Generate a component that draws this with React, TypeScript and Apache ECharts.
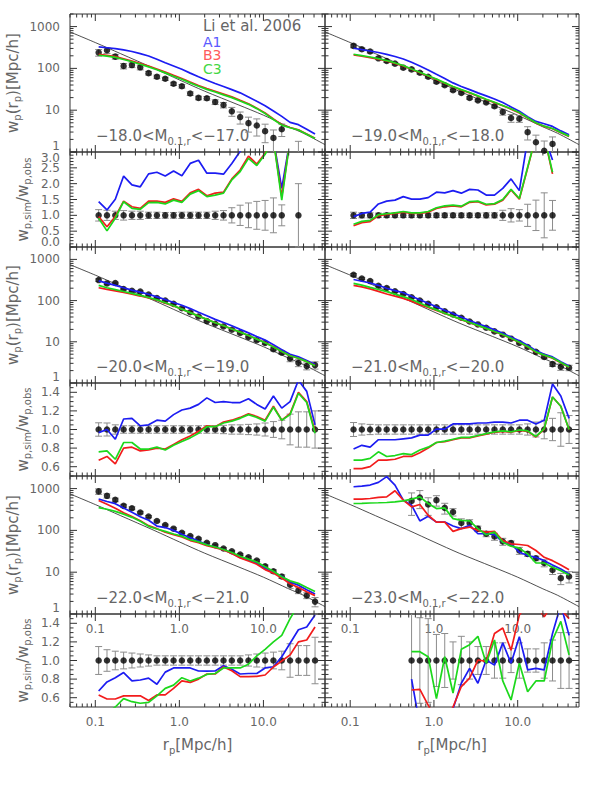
import React, { useEffect, useRef } from 'react';
import * as echarts from 'echarts';

// projected separation r_p [Mpc/h] of the measured bins
const RP = [0.1096, 0.1377, 0.1729, 0.2172, 0.2728, 0.3426, 0.4304, 0.5406, 0.679, 0.853,
  1.071, 1.346, 1.690, 2.123, 2.667, 3.350, 4.207, 5.285, 6.638, 8.337,
  10.47, 13.15, 16.52, 20.75, 26.07, 32.74, 41.1];

// thin reference curve drawn in every w_p panel
const REF_R = [0.05, 0.1, 0.2, 0.5, 1, 2, 5, 10, 20, 30, 54];
const REF_W = [745, 415, 225, 100, 53, 28.5, 13.5, 7.6, 4.0, 2.8, 1.5];

// ---- -18.0 < M < -17.0
const OBS_1 = [239, 271, 191, 114, 120, 106, 77, 63, 56.5, 42.8, 37.5, 25, 19.7, 19.3, 15.7, 13.3, 9.4, 6.85, 4.9, 4.3, 3.15, 2.17, 3.5, null, 0.9, null, null];
const ERR_1 = [0.18, 0.16, 0.13, 0.15, 0.13, 0.13, 0.1, 0.1, 0.09, 0.09, 0.1, 0.1, 0.1, 0.1, 0.13, 0.15, 0.24, 0.32, 0.39, 0.44, 0.47, 0.55, 0.33, null, 1.0, null, null];
const A1_1 = [326, 312, 298, 276, 253, 226, 198, 165, 137, 114, 95, 77, 63, 52, 43.5, 37, 31, 26, 20.8, 16.3, 12.8, 9.6, 7.1, 5.1, 4.5, 3.5, 2.7];
const B3_1 = [217, 205, 191, 170, 150, 131, 114, 97, 81.5, 68, 57.4, 47, 38.9, 33, 28.4, 24.3, 20.8, 17.2, 14.3, 11.2, 8.6, 6.2, 4.5, 3.85, 3.4, 2.7, 2.14];
const C3_1 = [206, 196, 183, 163, 144, 126, 109, 93, 78, 65, 55, 45, 37.5, 31.5, 27.2, 23.3, 20, 16.6, 13.8, 10.9, 8.3, 6.0, 4.4, 3.8, 3.35, 2.65, 2.1];
const RA1_1 = [1.43, 1.17, 1.51, 2.24, 1.96, 1.90, 2.31, 2.36, 2.24, 2.40, 2.25, 2.64, 2.74, 2.33, 2.33, 2.30, 2.64, 3.02, 3.4, 3.5, 3.4, 3.4, 1.85, 3.4, 3.5, null, null];
const RB3_1 = [0.96, 0.64, 0.96, 1.45, 1.27, 1.22, 1.45, 1.45, 1.41, 1.52, 1.44, 1.71, 1.82, 1.62, 1.70, 1.73, 2.15, 2.43, 2.87, 2.62, 2.96, 3.4, 1.59, 3.4, 3.4, null, null];
const RC3_1 = [0.91, 0.51, 0.91, 1.43, 1.22, 1.19, 1.40, 1.41, 1.36, 1.48, 1.41, 1.67, 1.78, 1.59, 1.64, 1.70, 2.12, 2.38, 2.80, 2.57, 2.93, 3.4, 1.48, 3.4, 3.4, null, null];

// ---- -19.0 < M < -18.0
const OBS_2 = [345, 287, 253, 174, 150, 130, 104, 94.6, 78.7, 63, 47.8, 39.6, 30, 26, 19.7, 17.2, 15.4, 12.4, 9.05, 6.5, 6.24, 2.98, 1.71, 1.07, 1.56, null, null];
const ERR_2 = [0.1, 0.08, 0.08, 0.07, 0.07, 0.07, 0.07, 0.07, 0.07, 0.07, 0.07, 0.07, 0.07, 0.07, 0.07, 0.07, 0.08, 0.08, 0.16, 0.21, 0.18, 0.35, 0.48, 0.71, 0.47, null, null];
const A1_2 = [303, 282, 261, 240, 217, 192, 168, 140, 114, 92, 72, 57, 45, 37, 31, 26, 22, 18.5, 15.2, 12, 9.4, 7, 5.4, 4.75, 4.1, 3.2, 2.6];
const B3_2 = [209, 195, 181, 166, 150, 132, 114, 95, 79, 66, 54.5, 44, 36.5, 30.5, 26, 21.5, 18, 15.2, 12.8, 10.6, 8.6, 6.5, 4.9, 4.1, 3.6, 2.9, 2.35];
const C3_2 = [218, 202, 187, 171, 154, 135, 117, 97, 81, 67, 55.5, 45, 37, 31, 26.4, 22, 18.3, 15.5, 13, 10.8, 8.8, 6.6, 5.0, 4.15, 3.65, 2.95, 2.4];
const RA1_2 = [0.96, 1.06, 1.10, 1.36, 1.45, 1.48, 1.59, 1.51, 1.51, 1.56, 1.73, 1.71, 1.78, 1.70, 1.82, 1.80, 1.64, 1.64, 1.85, 2.15, 1.78, 3.4, 3.5, 3.5, 2.75, null, null];
const RB3_2 = [0.67, 0.77, 0.80, 0.99, 1.03, 1.06, 1.10, 1.06, 1.06, 1.10, 1.22, 1.27, 1.30, 1.27, 1.41, 1.43, 1.33, 1.35, 1.48, 1.80, 1.51, 2.49, 3.5, 3.5, 2.31, null, null];
const RC3_2 = [0.72, 0.81, 0.84, 1.02, 1.05, 1.08, 1.12, 1.08, 1.08, 1.12, 1.24, 1.30, 1.32, 1.29, 1.43, 1.45, 1.35, 1.37, 1.50, 1.82, 1.53, 2.52, 3.5, 3.5, 2.36, null, null];

// ---- -20.0 < M < -19.0
const OBS_3 = [315, 261, 267, 191, 174, 165, 140, 116, 100, 83.3, 65.3, 52.3, 41.1, 31.8, 27.4, 23.6, 19.6, 16.3, 13.1, 10.9, 9.35, 6.6, 5.48, 3.93, 3.08, 2.57, 2.72];
const ERR_3 = [0.072, 0.07, 0.05, 0.04, 0.04, 0.04, 0.04, 0.04, 0.04, 0.04, 0.04, 0.04, 0.04, 0.04, 0.04, 0.045, 0.05, 0.05, 0.055, 0.06, 0.07, 0.085, 0.1, 0.165, 0.19, 0.19, 0.2];
const A1_3 = [300, 265, 235, 205, 180, 160, 143, 123, 106, 90, 77, 64, 52, 43, 35, 29.5, 24.5, 20, 16.5, 13.4, 11, 8.5, 6.4, 5, 4.3, 3.5, 2.85];
const B3_3 = [205, 188, 172, 157, 143, 129, 116, 102, 87, 74, 62, 51, 42, 35, 29, 24.5, 20.5, 17.2, 14.2, 11.7, 9.6, 7.6, 5.8, 4.6, 4.0, 3.3, 2.65];
const C3_3 = [235, 205, 185, 166, 150, 134, 119, 104, 89, 75, 62, 51, 42, 35, 29, 24.5, 20.5, 17.2, 14.2, 11.6, 9.5, 7.5, 5.8, 4.6, 4.0, 3.3, 2.62];
const RA1_3 = [0.966, 1.0, 0.895, 1.113, 1.12, 1.04, 1.05, 1.10, 1.09, 1.16, 1.21, 1.23, 1.27, 1.34, 1.29, 1.30, 1.29, 1.29, 1.33, 1.27, 1.22, 1.36, 1.23, 1.30, 1.53, 1.41, 1.05];
const RB3_3 = [0.67, 0.71, 0.63, 0.80, 0.81, 0.77, 0.78, 0.80, 0.79, 0.84, 0.89, 0.93, 0.98, 1.04, 1.03, 1.08, 1.10, 1.13, 1.17, 1.14, 1.10, 1.25, 1.10, 1.17, 1.40, 1.30, 0.98];
const RC3_3 = [0.76, 0.77, 0.68, 0.86, 0.86, 0.79, 0.79, 0.81, 0.78, 0.83, 0.87, 0.91, 0.96, 1.03, 1.03, 1.07, 1.09, 1.12, 1.16, 1.13, 1.09, 1.24, 1.10, 1.16, 1.39, 1.29, 0.96];

// ---- -21.0 < M < -20.0
const OBS_4 = [423, 345, 298, 230, 202, 168, 145, 120, 100, 83.3, 69, 55.2, 46, 38.3, 31.2, 26.4, 21.9, 17.9, 14.9, 11.9, 9.35, 7.5, 5.69, 4.3, 2.87, 2.47, 2.34];
const ERR_4 = [0.075, 0.06, 0.055, 0.05, 0.05, 0.05, 0.05, 0.05, 0.05, 0.05, 0.05, 0.05, 0.05, 0.05, 0.05, 0.05, 0.05, 0.05, 0.05, 0.05, 0.05, 0.06, 0.08, 0.1, 0.12, 0.18, 0.15];
const A1_4 = [325, 295, 268, 235, 200, 175, 155, 128, 105, 86, 71, 58.5, 48.5, 40, 33, 27.5, 23.5, 19.5, 16, 13, 10.6, 8.3, 6.1, 5.0, 4.3, 3.3, 2.6];
const B3_4 = [235, 215, 192, 168, 145, 128, 113, 97, 80, 68, 58, 49, 41, 34.5, 29, 24.5, 21, 17.5, 14.8, 12.0, 9.6, 7.6, 5.6, 4.7, 4.0, 3.1, 2.4];
const C3_4 = [262, 238, 210, 186, 165, 144, 125, 106, 87, 71, 59.5, 49.5, 41.5, 35, 29.5, 25, 21.2, 17.8, 15, 12.2, 9.8, 7.7, 5.7, 4.75, 4.1, 3.15, 2.45];
const RA1_4 = [0.79, 0.83, 0.81, 0.89, 0.89, 0.89, 0.90, 0.91, 0.94, 0.94, 1.005, 1.005, 1.06, 1.06, 1.06, 1.07, 1.07, 1.08, 1.08, 1.07, 1.10, 1.10, 1.06, 1.10, 1.49, 1.36, 1.12];
const RB3_4 = [0.58, 0.58, 0.60, 0.67, 0.67, 0.68, 0.71, 0.71, 0.75, 0.80, 0.86, 0.87, 0.89, 0.91, 0.91, 0.93, 0.95, 0.97, 0.98, 0.97, 0.99, 0.98, 0.92, 1.005, 1.35, 1.25, 1.0];
const RC3_4 = [0.67, 0.67, 0.69, 0.76, 0.71, 0.72, 0.74, 0.73, 0.78, 0.81, 0.86, 0.875, 0.895, 0.915, 0.915, 0.935, 0.955, 0.975, 0.985, 0.975, 0.995, 0.985, 0.925, 1.01, 1.35, 1.25, 1.0];

// ---- -22.0 < M < -21.0
const OBS_5 = [856, 671, 538, 386, 339, 267, 214, 168, 134, 110, 88, 73, 63, 50.5, 44.3, 36.8, 31.8, 26.4, 22.7, 18.9, 13.8, 10.5, 7.9, 5, 3.65, 2.77, 1.98];
const ERR_5 = [0.15, 0.116, 0.1, 0.09, 0.08, 0.07, 0.06, 0.05, 0.05, 0.05, 0.05, 0.05, 0.05, 0.05, 0.05, 0.05, 0.05, 0.05, 0.06, 0.07, 0.08, 0.09, 0.1, 0.18, 0.16, 0.16, 0.25];
const A1_5 = [565, 490, 435, 345, 270, 212, 175, 127, 117, 100, 81, 67, 56, 45, 39.5, 34.5, 28.5, 22.5, 19.5, 16.3, 12.5, 9.8, 8.0, 5.8, 4.9, 3.8, 3.0];
const B3_5 = [520, 420, 340, 265, 215, 170, 130, 110, 90, 79, 70, 57, 51, 43, 38.5, 34, 28, 22, 18.5, 15.5, 11.5, 9.5, 7.2, 5.3, 4.3, 3.4, 2.75];
const C3_5 = [350, 320, 285, 245, 205, 165, 125, 108, 95, 82, 73, 60, 53, 45, 40, 35, 29.5, 24, 20.5, 17.5, 13.5, 10.5, 7.8, 6.2, 5.4, 4.3, 3.45];
const RA1_5 = [0.672, 0.77, 0.815, 0.87, 0.78, 0.79, 0.81, 0.745, 0.875, 0.92, 0.92, 0.92, 0.887, 0.885, 0.887, 0.944, 0.905, 0.855, 0.86, 0.86, 0.92, 0.933, 1.04, 1.185, 1.33, 1.36, 1.49];
const RB3_5 = [0.63, 0.586, 0.586, 0.62, 0.62, 0.62, 0.57, 0.63, 0.63, 0.70, 0.78, 0.765, 0.80, 0.855, 0.855, 0.93, 0.89, 0.826, 0.826, 0.83, 0.844, 0.93, 0.995, 1.06, 1.20, 1.22, 1.36];
const RC3_5 = [0.38, 0.44, 0.5, 0.59, 0.557, 0.54, 0.55, 0.62, 0.70, 0.735, 0.815, 0.78, 0.81, 0.85, 0.86, 0.92, 0.92, 0.92, 0.96, 1.05, 1.12, 1.20, 1.27, 1.45, 1.6, 1.7, 1.8];

// ---- -23.0 < M < -22.0
const OBS_6 = [null, null, null, null, null, null, null, 508, 614, 416, 528, 345, 276, 150, 150, 110, 83, 71.6, 54.3, 49.5, 33, 27.4, 21.5, 16.6, 11.3, 7.2, 7.9];
const ERR_6 = [null, null, null, null, null, null, null, 0.55, 0.46, 0.45, 0.28, 0.29, 0.2, 0.26, 0.2, 0.15, 0.15, 0.19, 0.19, 0.13, 0.19, 0.125, 0.125, 0.19, 0.22, 0.3, 0.3];
const A1_6 = [1105, 1140, 1214, 1410, 1930, 1214, 528, 400, 168, 217, 158, 158, 127, 110, 132, 83, 83, 78.7, 52.3, 47.8, 30, 25, 22.7, 18.9, 14.9, 11.9, 9.04];
const B3_6 = [558, 558, 580, 617, 635, 887, 528, 365, 416, 230, 158, 158, 94.6, 110, 120, 100, 91, 94.6, 57.4, 47.8, 46, 43.5, 33, 22.7, 18.9, 14.9, 11.5];
const C3_6 = [440, 445, 452, 458, 465, 482, 508, 558, 635, 440, 333, 345, 191, 174, 168, 110, 78.7, 91, 52.3, 41.9, 37.5, 27.4, 16.6, 16.6, 13.1, 10.9, 8.56];
const RA1_6 = [null, null, null, null, null, null, null, 0.80, 0.3, 0.45, 0.3, 0.3, 0.48, 0.755, 0.916, 0.755, 1.005, 0.95, 1.19, 0.97, 1.256, 0.90, 0.916, 0.90, 1.29, 1.6, 1.27];
const RB3_6 = [null, null, null, null, null, null, null, 0.683, 0.69, 0.52, 0.35, 0.35, 0.5, 0.72, 0.81, 1.005, 0.99, 1.29, 1.35, 1.11, 1.49, 1.6, 1.6, 1.47, 1.6, 1.55, 1.45];
const RC3_6 = [null, null, null, null, null, null, null, 1.095, 1.095, 1.04, 0.59, 1.04, 0.65, 1.12, 1.17, 1.26, 0.97, 1.22, 0.78, 0.575, 0.97, 0.665, 0.78, 0.78, 1.22, 1.42, 1.06];

const MAG_BRIGHT = ['−18.0', '−19.0', '−20.0', '−21.0', '−22.0', '−23.0'];
const MAG_FAINT = ['−17.0', '−18.0', '−19.0', '−20.0', '−21.0', '−22.0'];
const LEGEND = ['Li et al. 2006', 'A1', 'B3', 'C3'];

// tick values
const X_MAJOR = [0.1, 1, 10];
const X_MINOR = [0.05, 0.06, 0.07, 0.08, 0.09, 0.2, 0.3, 0.4, 0.5, 0.6, 0.7, 0.8, 0.9, 2, 3, 4, 5, 6, 7, 8, 9, 20, 30, 40, 50];
const W_MAJOR = [1, 10, 100, 1000];
const W_MINOR = [2, 3, 4, 5, 6, 7, 8, 9, 20, 30, 40, 50, 60, 70, 80, 90, 200, 300, 400, 500, 600, 700, 800, 900, 2000];
const R1_MAJOR = [0, 0.5, 1, 1.5, 2, 2.5, 3];
const R1_MINOR = [0.1, 0.2, 0.3, 0.4, 0.6, 0.7, 0.8, 0.9, 1.1, 1.2, 1.3, 1.4, 1.6, 1.7, 1.8, 1.9, 2.1, 2.2, 2.3, 2.4, 2.6, 2.7, 2.8, 2.9];
const R2_MAJOR = [0.6, 0.8, 1.0, 1.2, 1.4];
const R2_MINOR = [0.55, 0.65, 0.7, 0.75, 0.85, 0.9, 0.95, 1.05, 1.1, 1.15, 1.25, 1.3, 1.35, 1.45];

const PANELS = [
  { obs: OBS_1, err: ERR_1, a1: A1_1, b3: B3_1, c3: C3_1, ra1: RA1_1, rb3: RB3_1, rc3: RC3_1 },
  { obs: OBS_2, err: ERR_2, a1: A1_2, b3: B3_2, c3: C3_2, ra1: RA1_2, rb3: RB3_2, rc3: RC3_2 },
  { obs: OBS_3, err: ERR_3, a1: A1_3, b3: B3_3, c3: C3_3, ra1: RA1_3, rb3: RB3_3, rc3: RC3_3 },
  { obs: OBS_4, err: ERR_4, a1: A1_4, b3: B3_4, c3: C3_4, ra1: RA1_4, rb3: RB3_4, rc3: RC3_4 },
  { obs: OBS_5, err: ERR_5, a1: A1_5, b3: B3_5, c3: C3_5, ra1: RA1_5, rb3: RB3_5, rc3: RC3_5 },
  { obs: OBS_6, err: ERR_6, a1: A1_6, b3: B3_6, c3: C3_6, ra1: RA1_6, rb3: RB3_6, rc3: RC3_6 },
];

// layout
const COL_LEFT = [70, 325];
const COL_W = [255, 254];
const MAIN_TOP = [14, 247, 476];
const MAIN_H = [138, 136, 138];
const RAT_TOP = [152, 383, 614];
const RAT_H = [95, 93, 93];

const FONT = 'DejaVu Sans';
const TXT = '#666666';
const FRAME = '#333333';
const ERRC = '#8c8c8c';
const BLUE = '#1c1cf2';
const RED = '#f21c1c';
const GREEN = '#1cd81c';
const LBL = 12;

function isDecade(v: number) {
  const l = Math.log10(v);
  return Math.abs(l - Math.round(l)) < 1e-6;
}

function tickRender(params: any, api: any) {
  const cs = params.coordSys;
  const kind = api.value(2);
  const p = api.coord([api.value(0), api.value(1)]);
  const st = { stroke: FRAME, lineWidth: 1 };
  if (kind < 2) {
    const len = kind === 0 ? 7 : 3.5;
    const b = cs.y + cs.height;
    return {
      type: 'group',
      children: [
        { type: 'line', shape: { x1: p[0], y1: b, x2: p[0], y2: b - len }, style: st },
        { type: 'line', shape: { x1: p[0], y1: cs.y, x2: p[0], y2: cs.y + len }, style: st },
      ],
    };
  }
  const len = kind === 2 ? 7 : 3.5;
  const r = cs.x + cs.width;
  return {
    type: 'group',
    children: [
      { type: 'line', shape: { x1: cs.x, y1: p[1], x2: cs.x + len, y2: p[1] }, style: st },
      { type: 'line', shape: { x1: r, y1: p[1], x2: r - len, y2: p[1] }, style: st },
    ],
  };
}

function errRender(isLog: boolean) {
  return (params: any, api: any) => {
    const cs = params.coordSys;
    const x = api.value(0);
    const y = api.value(1);
    const e = api.value(2);
    const hiV = y * (1 + e);
    const loV = y * (1 - e);
    const px = api.coord([x, y])[0];
    const top = cs.y;
    const bot = cs.y + cs.height;
    const yTop = api.coord([x, hiV])[1];
    const yBot = isLog && loV <= 0 ? bot + 200 : api.coord([x, loV])[1];
    const st = { stroke: ERRC, lineWidth: 1 };
    const children: any[] = [
      { type: 'line', shape: { x1: px, y1: Math.max(yTop, top), x2: px, y2: Math.min(yBot, bot) }, style: st },
    ];
    if (yTop >= top) children.push({ type: 'line', shape: { x1: px - 3.5, y1: yTop, x2: px + 3.5, y2: yTop }, style: st });
    if (yBot <= bot) children.push({ type: 'line', shape: { x1: px - 3.5, y1: yBot, x2: px + 3.5, y2: yBot }, style: st });
    return { type: 'group', children };
  };
}

function pairs(ys: (number | null)[]) {
  return RP.map((x, k) => [x, ys[k] == null ? null : ys[k]]);
}

function labelStyle() {
  return { color: TXT, fontSize: LBL, fontFamily: FONT };
}

function richText(x: number, y: number, text: string, opts: any = {}) {
  const color = opts.color || TXT;
  return {
    type: 'text',
    x,
    y,
    rotation: opts.rot || 0,
    silent: true,
    style: {
      text,
      fontSize: opts.size || 15,
      fontFamily: FONT,
      fill: color,
      align: opts.align || 'left',
      verticalAlign: 'middle',
      lineHeight: opts.lh || 20,
      rich: {
        s: { fontSize: 10, fontFamily: FONT, fill: color, verticalAlign: 'bottom', lineHeight: 10 },
      },
    },
  };
}

function plainText(x: number, y: number, text: string) {
  return {
    type: 'text', x, y, silent: true,
    style: { text, fontSize: LBL, fontFamily: FONT, fill: TXT, align: 'right', verticalAlign: 'middle' },
  };
}

function buildOption() {
  const grid: any[] = [];
  const xAxis: any[] = [];
  const yAxis: any[] = [];
  const series: any[] = [];
  const elements: any[] = [];

  const xFmt = (v: number) => (isDecade(v) ? Math.pow(10, Math.round(Math.log10(v))).toFixed(1) : '');

  const mkX = (gi: number, show: boolean) => ({
    gridIndex: gi, type: 'log', logBase: 10, min: 0.05, max: 54,
    axisLine: { show: false }, axisTick: { show: false }, splitLine: { show: false },
    axisLabel: { show, margin: 9, formatter: xFmt, interval: 0, ...labelStyle() },
  });

  const xTicks = (yRef: number) => [
    ...X_MAJOR.map((v) => [v, yRef, 0]),
    ...X_MINOR.map((v) => [v, yRef, 1]),
  ];

  const labelX = COL_LEFT[0] - 10;

  for (let i = 0; i < 6; i++) {
    const col = i % 2;
    const row = Math.floor(i / 2);
    const L = COL_LEFT[col];
    const W = COL_W[col];
    const P = PANELS[i];
    const gBase = {
      left: L, width: W, show: true, borderColor: FRAME, borderWidth: 1,
      backgroundColor: 'transparent', containLabel: false, outerBoundsMode: 'none',
    };

    // ---------- main panel ----------
    const gm = grid.length;
    grid.push({ ...gBase, top: MAIN_TOP[row], height: MAIN_H[row] });
    xAxis.push(mkX(gm, row === 2));
    yAxis.push({
      gridIndex: gm, type: 'log', logBase: 10, min: 1, max: 2000,
      axisLine: { show: false }, axisTick: { show: false }, splitLine: { show: false },
      axisLabel: {
        show: col === 0, margin: 10, interval: 0, ...labelStyle(),
        formatter: (v: number) => {
          if (!isDecade(v)) return '';
          const e = Math.round(Math.log10(v));
          return e === 0 ? '' : String(Math.pow(10, e));
        },
      },
    });
    series.push({
      type: 'line', xAxisIndex: gm, yAxisIndex: gm, data: REF_R.map((r, k) => [r, REF_W[k]]),
      smooth: 0.3, showSymbol: false, symbol: 'none', silent: true, z: 1,
      lineStyle: { color: '#222', width: 0.8 },
    });
    const obsData = RP.map((x, k) => (P.obs[k] != null ? [x, P.obs[k], P.err[k]] : null)).filter(Boolean);
    series.push({
      type: 'custom', xAxisIndex: gm, yAxisIndex: gm, renderItem: errRender(true), data: obsData, z: 2, silent: true,
    });
    series.push({
      type: 'scatter', xAxisIndex: gm, yAxisIndex: gm, data: obsData.map((d: any) => [d[0], d[1]]),
      symbol: 'circle', symbolSize: 6.5, itemStyle: { color: '#000' }, z: 3, silent: true,
    });
    [[P.a1, BLUE], [P.b3, RED], [P.c3, GREEN]].forEach(([ys, c]: any, j) => {
      series.push({
        type: 'line', xAxisIndex: gm, yAxisIndex: gm, data: pairs(ys), showSymbol: false, symbol: 'none',
        connectNulls: false, silent: true, z: 4 + j * 0.1, lineStyle: { color: c, width: 1.7 },
      });
    });
    series.push({
      type: 'custom', xAxisIndex: gm, yAxisIndex: gm, renderItem: tickRender, silent: true, z: 6,
      data: [...xTicks(10), ...W_MAJOR.map((v) => [1, v, 2]), ...W_MINOR.map((v) => [1, v, 3])],
    });

    // ---------- ratio panel ----------
    const gr = grid.length;
    grid.push({ ...gBase, top: RAT_TOP[row], height: RAT_H[row] });
    xAxis.push(mkX(gr, row === 2));
    const r0 = row === 0;
    yAxis.push({
      gridIndex: gr, type: 'value', min: r0 ? 0 : 0.5, max: r0 ? 3 : 1.5, interval: r0 ? 0.5 : 0.1,
      axisLine: { show: false }, axisTick: { show: false }, splitLine: { show: false },
      axisLabel: {
        show: col === 0, margin: 10, interval: 0, hideOverlap: false, ...labelStyle(),
        formatter: (v: number) => {
          const t = Math.round(v * 10);
          if (r0) {
            if (t % 5 !== 0 || t === 0 || t === 30) return '';
            return (t / 10).toFixed(1);
          }
          if (t % 2 !== 0 || t <= 5 || t >= 15) return '';
          return (t / 10).toFixed(1);
        },
      },
    });
    const ratData = RP.map((x, k) => (P.obs[k] != null ? [x, 1, P.err[k]] : null)).filter(Boolean);
    series.push({
      type: 'custom', xAxisIndex: gr, yAxisIndex: gr, renderItem: errRender(false), data: ratData, z: 2, silent: true,
    });
    series.push({
      type: 'scatter', xAxisIndex: gr, yAxisIndex: gr, data: ratData.map((d: any) => [d[0], 1]),
      symbol: 'circle', symbolSize: 6.5, itemStyle: { color: '#000' }, z: 3, silent: true,
    });
    [[P.ra1, BLUE], [P.rb3, RED], [P.rc3, GREEN]].forEach(([ys, c]: any, j) => {
      series.push({
        type: 'line', xAxisIndex: gr, yAxisIndex: gr, data: pairs(ys), showSymbol: false, symbol: 'none',
        connectNulls: false, silent: true, z: 4 + j * 0.1, lineStyle: { color: c, width: 1.7 },
      });
    });
    const yMaj = r0 ? R1_MAJOR : R2_MAJOR;
    const yMin = r0 ? R1_MINOR : R2_MINOR;
    series.push({
      type: 'custom', xAxisIndex: gr, yAxisIndex: gr, renderItem: tickRender, silent: true, z: 6,
      data: [...xTicks(1), ...yMaj.map((v) => [1, v, 2]), ...yMin.map((v) => [1, v, 3])],
    });

    // magnitude label
    elements.push(
      richText(L + 26, MAIN_TOP[row] + MAIN_H[row] - 16, `${MAG_BRIGHT[i]}<M{s|0.1,r}<${MAG_FAINT[i]}`)
    );
    if (col === 0) {
      // end labels that sit just inside the frame
      elements.push(plainText(labelX, MAIN_TOP[row] + MAIN_H[row] - 6, '1'));
      if (r0) {
        elements.push(plainText(labelX, RAT_TOP[row] + 6, '3.0'));
        elements.push(plainText(labelX, RAT_TOP[row] + RAT_H[row] - 5.5, '0.0'));
      }
      elements.push(richText(12.5, MAIN_TOP[row] + MAIN_H[row] / 2, 'w{s|p}(r{s|p})[Mpc/h]', { rot: Math.PI / 2, align: 'center' }));
      elements.push(richText(22.5, RAT_TOP[row] + RAT_H[row] / 2, 'w{s|p,sim}/w{s|p,obs}', { rot: Math.PI / 2, align: 'center' }));
    }
  }

  // x titles
  elements.push(richText(COL_LEFT[0] + COL_W[0] / 2, 745, 'r{s|p}[Mpc/h]', { align: 'center' }));
  elements.push(richText(COL_LEFT[1] + COL_W[1] / 2, 745, 'r{s|p}[Mpc/h]', { align: 'center' }));

  // legend
  const legendColors = [TXT, '#5a5aff', '#ff5a5a', '#44d844'];
  const legendY = [25.5, 41.5, 55, 68.5];
  const legendSize = [15, 14, 14, 14];
  LEGEND.forEach((t, k) => {
    elements.push(richText(203, legendY[k], t, { color: legendColors[k], lh: 13, size: legendSize[k] }));
  });

  return {
    animation: false,
    backgroundColor: '#ffffff',
    grid,
    xAxis,
    yAxis,
    series,
    graphic: { elements },
  };
}

export default function App() {
  const ref = useRef<HTMLDivElement>(null);
  useEffect(() => {
    if (!ref.current) return;
    const chart = echarts.init(ref.current, null, { renderer: 'svg' });
    chart.setOption(buildOption() as any);
    return () => chart.dispose();
  }, []);
  return (
    <div
      ref={ref}
      style={{ position: 'absolute', left: 0, top: 0, width: 591, height: 786, background: '#fff' }}
    />
  );
}
